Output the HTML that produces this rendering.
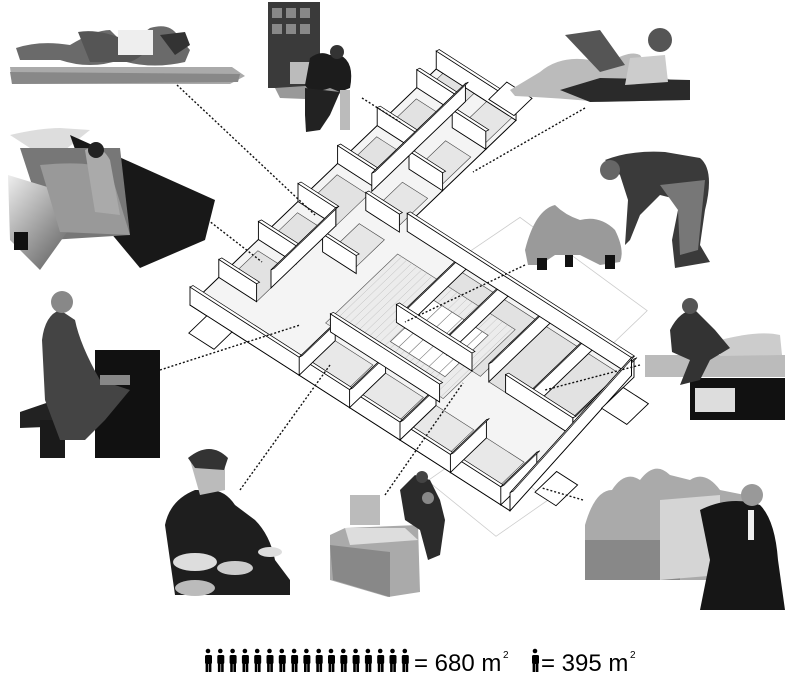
<!DOCTYPE html>
<html><head><meta charset="utf-8"><style>
html,body{margin:0;padding:0;background:#fff;}
svg{display:block}
</style></head><body>
<svg id="s" width="800" height="688" viewBox="0 0 800 688" xmlns="http://www.w3.org/2000/svg" font-family="Liberation Sans, Arial, sans-serif">
<defs>
<linearGradient id="g1" x1="0" y1="0" x2="1" y2="1"><stop offset="0" stop-color="#eee"/><stop offset="1" stop-color="#444"/></linearGradient>
</defs>

<g id="plan"></g>

<g stroke="#111" stroke-width="1.4" stroke-dasharray="2,2" fill="none">
<line x1="177" y1="85" x2="315" y2="215"/>
<line x1="362" y1="98" x2="400" y2="122"/>
<line x1="585" y1="108" x2="473" y2="172"/>
<line x1="195" y1="210" x2="262" y2="262"/>
<line x1="525" y1="265" x2="405" y2="322"/>
<line x1="160" y1="370" x2="300" y2="325"/>
<line x1="640" y1="365" x2="545" y2="390"/>
<line x1="240" y1="490" x2="330" y2="365"/>
<line x1="385" y1="495" x2="463" y2="383"/>
<line x1="583" y1="500" x2="542" y2="488"/>
</g>

<g>
<polygon points="10,67 232,67 245,76 230,84 12,84" fill="#aaa"/>
<polygon points="10,72 240,74 238,82 12,84" fill="#888"/>
<path d="M16,48 Q40,40 70,45 Q95,30 110,30 L118,38 Q135,40 150,28 Q170,22 178,36 L190,50 L185,62 Q150,70 120,60 Q90,70 60,60 L20,60 Z" fill="#6a6a6a"/>
<path d="M78,32 Q100,28 130,42 L150,40 Q148,55 130,62 L90,62 Z" fill="#555"/>
<rect x="118" y="30" width="35" height="25" fill="#eee"/>
<path d="M160,35 L185,32 L190,45 L175,55 Z" fill="#333"/>
</g>

<g>
<rect x="268" y="2" width="52" height="86" fill="#3a3a3a"/>
<g fill="#888"><rect x="272" y="8" width="10" height="10"/><rect x="286" y="8" width="10" height="10"/><rect x="300" y="8" width="10" height="10"/><rect x="272" y="24" width="10" height="10"/><rect x="286" y="24" width="10" height="10"/><rect x="300" y="24" width="10" height="10"/><rect x="290" y="62" width="20" height="22" fill="#bbb"/></g>
<polygon points="275,88 320,85 345,90 330,100 280,98" fill="#999"/>
<path d="M310,58 Q320,50 330,55 L340,55 Q355,62 350,88 L340,92 L330,88 Q310,95 305,85 Z" fill="#1c1c1c"/>
<circle cx="337" cy="52" r="7" fill="#333"/>
<path d="M305,88 L340,92 L330,115 L320,130 L306,132 L305,115 Z" fill="#222"/>
<rect x="340" y="90" width="10" height="40" fill="#bbb"/>
</g>

<g>
<path d="M510,90 L540,72 Q560,55 590,60 L610,62 Q630,50 640,55 L650,70 Q660,75 675,82 L690,82 L685,100 L600,102 Q560,98 515,96 Z" fill="#bbb"/>
<path d="M560,90 L600,78 L690,80 L690,100 L590,102 Z" fill="#2a2a2a"/>
<polygon points="565,35 600,30 625,65 600,72" fill="#555"/>
<circle cx="660" cy="40" r="12" fill="#555"/>
<path d="M630,58 L665,55 L668,82 L625,85 Z" fill="#ccc"/>
</g>

<g>
<path d="M10,135 Q40,128 60,128 L90,130 L65,150 L30,148 Z" fill="#ddd"/>
<polygon points="70,135 215,200 205,240 140,268 100,220" fill="#181818"/>
<polygon points="20,148 120,148 130,235 50,240" fill="#777"/>
<polygon points="8,175 90,200 40,270 25,255 10,240" fill="url(#g1)"/>
<path d="M40,165 Q90,160 110,170 L130,235 L60,232 Z" fill="#999"/>
<path d="M85,150 Q100,142 110,160 L120,215 L95,212 Z" fill="#aaa"/>
<circle cx="96" cy="150" r="8" fill="#222"/>
<rect x="14" y="232" width="14" height="18" fill="#111"/>
</g>

<g>
<path d="M605,160 Q630,150 665,152 L700,158 Q715,170 705,210 L700,245 L710,262 L675,268 L672,240 L680,200 L660,195 L640,215 L630,240 L625,245 L628,200 L620,175 Z" fill="#3a3a3a"/>
<path d="M660,185 L705,180 L698,250 L680,255 L678,210 Z" fill="#777"/>
<circle cx="610" cy="170" r="10" fill="#666"/>
<path d="M525,250 Q535,210 555,205 Q565,215 580,220 Q600,215 615,230 Q625,250 620,262 L600,265 L580,255 L555,255 L540,265 L528,265 Z" fill="#9a9a9a"/>
<g fill="#111"><rect x="537" y="258" width="10" height="12"/><rect x="565" y="255" width="8" height="12"/><rect x="605" y="255" width="10" height="14"/></g>
</g>

<g>
<rect x="95" y="350" width="65" height="108" fill="#111"/>
<polygon points="20,412 90,388 95,425 20,428" fill="#222"/>
<rect x="40" y="420" width="25" height="38" fill="#1a1a1a"/>
<path d="M42,340 Q45,315 60,310 L75,320 Q80,345 100,380 L130,390 L105,420 L85,440 L60,440 L45,400 Z" fill="#444"/>
<circle cx="62" cy="302" r="11" fill="#888"/>
<rect x="100" y="375" width="30" height="10" fill="#888"/>
</g>

<g>
<rect x="690" y="378" width="95" height="42" fill="#111"/>
<rect x="695" y="388" width="40" height="24" fill="#ddd"/>
<rect x="645" y="355" width="140" height="22" fill="#bbb"/>
<path d="M720,340 Q760,330 780,335 L782,355 L720,356 Z" fill="#ccc"/>
<path d="M670,330 Q680,310 695,310 L715,330 L730,348 L710,360 L700,380 L680,385 L690,360 L672,352 Z" fill="#333"/>
<circle cx="690" cy="306" r="8" fill="#555"/>
</g>

<g>
<path d="M165,525 Q170,500 195,490 L210,490 Q225,490 235,505 L255,520 Q270,535 275,560 L290,580 L290,595 L175,595 L170,560 Z" fill="#1e1e1e"/>
<path d="M190,460 Q210,448 225,462 L225,490 L200,495 Z" fill="#bbb"/>
<path d="M188,458 Q210,440 228,458 L224,470 L195,468 Z" fill="#333"/>
<ellipse cx="195" cy="562" rx="22" ry="9" fill="#ddd"/>
<ellipse cx="235" cy="568" rx="18" ry="7" fill="#ccc"/>
<ellipse cx="270" cy="552" rx="12" ry="5" fill="#ddd"/>
<ellipse cx="195" cy="588" rx="20" ry="8" fill="#bbb"/>
</g>

<g>
<polygon points="330,535 345,528 418,525 420,592 388,597 330,580" fill="#aaa"/>
<polygon points="345,528 405,528 418,540 350,545" fill="#ddd"/>
<polygon points="330,545 390,552 390,597 333,580" fill="#888"/>
<rect x="350" y="495" width="30" height="30" fill="#bbb"/>
<path d="M400,490 L415,475 L430,480 L440,500 L445,520 L440,555 L428,560 L420,530 L405,520 Z" fill="#2b2b2b"/>
<circle cx="422" cy="477" r="6" fill="#444"/>
<circle cx="428" cy="498" r="6" fill="#888"/>
</g>

<g>
<path d="M585,525 Q595,490 612,490 Q625,470 640,480 Q655,460 670,475 L690,480 Q705,470 720,490 L745,495 L745,580 L585,580 Z" fill="#aaa"/>
<path d="M585,540 L680,540 L680,580 L585,580 Z" fill="#888"/>
<path d="M660,500 L720,495 L720,575 L660,580 Z" fill="#d5d5d5"/>
<path d="M700,510 Q730,495 760,505 Q775,520 778,560 L785,610 L700,610 L710,560 Z" fill="#161616"/>
<circle cx="752" cy="495" r="11" fill="#999"/>
<rect x="748" y="510" width="6" height="30" fill="#eee"/>
</g>

<g id="leg" fill="#000"></g>
<text x="414" y="671" font-size="24" fill="#000">= 680 m</text>
<text x="503" y="658" font-size="10" fill="#000">2</text>
<text x="541" y="671" font-size="24" fill="#000">= 395 m</text>
<text x="630" y="658" font-size="10" fill="#000">2</text>
</svg>
<script>
var NS="http://www.w3.org/2000/svg";
function el(p,t,a){var e=document.createElementNS(NS,t);for(var k in a)e.setAttribute(k,a[k]);p.appendChild(e);return e;}
var L=document.getElementById("leg");
function fig(x){el(L,"circle",{cx:x+3,cy:651,r:2.3});el(L,"rect",{x:x,y:655,width:7,height:9,rx:1.5});el(L,"rect",{x:x+0.6,y:663,width:2.6,height:9});el(L,"rect",{x:x+3.8,y:663,width:2.6,height:9});}
for(var i=0;i<17;i++)fig(205+i*12.3);
fig(532);
var P=document.getElementById("plan");
function T(a,b){return [190+0.72*a+0.84*b, 305-0.69*a+0.54*b];}
function poly(pts,fill,stroke,sw){var s=pts.map(function(p){var q=T(p[0],p[1]);return q[0].toFixed(1)+","+q[1].toFixed(1);}).join(" ");return el(P,"polygon",{points:s,fill:fill,stroke:stroke||"#000","stroke-width":sw||1});}
function line(a1,b1,a2,b2,c,w){var p=T(a1,b1),q=T(a2,b2);el(P,"line",{x1:p[0],y1:p[1],x2:q[0],y2:q[1],stroke:c||"#000","stroke-width":w||0.8});}
poly([[150,150],[260,170],[250,330],[140,330]],"none","#ccc",0.8);
poly([[-20,300],[40,310],[30,400],[-30,390]],"none","#ccc",0.8);
poly([[0,0],[342,0],[342,95],[200,95],[190,150],[185,367],[0,381]],"#f4f4f4","#000",1);
for(var a=40;a<330;a+=55){poly([[a,8],[a+45,8],[a+45,45],[a,45]],"#e2e2e2","#444",0.6);}
for(var a=120;a<330;a+=60){poly([[a,60],[a+45,60],[a+45,90],[a,90]],"#e6e6e6","#444",0.6);}
for(var b=170;b<370;b+=50){poly([[100,b],[180,b],[180,b+40],[100,b+40]],"#e2e2e2","#444",0.6);}
for(var b=130;b<370;b+=60){poly([[5,b],[50,b],[50,b+45],[5,b+45]],"#e8e8e8","#444",0.6);}
poly([[60,110],[160,110],[160,250],[60,250]],"#ececec","#555",0.6);
for(var k=115;k<250;k+=6)line(60,k,160,k,"#bbb",0.5);
poly([[80,170],[140,170],[140,235],[80,235]],"#fff","#555",0.7);
for(var k=180;k<235;k+=12)line(80,k,140,k,"#777",0.6);
var H=18;
function wall(a1,b1,a2,b2){
 var p=T(a1,b1),q=T(a2,b2);
 el(P,"polygon",{points:[p[0],p[1],q[0],q[1],q[0],q[1]-H,p[0],p[1]-H].join(","),fill:"#fff",stroke:"#000","stroke-width":0.9});
 el(P,"polygon",{points:[p[0],p[1]-H,q[0],q[1]-H,q[0]+3,q[1]-H-1.5,p[0]+3,p[1]-H-1.5].join(","),fill:"#fff",stroke:"#000","stroke-width":0.7});
}
wall(342,0,342,95);wall(0,0,0,381);
for(var a=40;a<340;a+=55){wall(a,0,a,45);}
for(var a=120;a<340;a+=60){wall(a,55,a,95);}
wall(60,45,150,45);wall(200,45,330,45);
for(var b=130;b<380;b+=60){wall(0,b,50,b);}
for(var b=170;b<380;b+=50){wall(100,b,185,b);}
wall(100,160,100,250);wall(100,290,100,370);wall(55,120,55,250);
wall(185,100,185,367);wall(0,381,185,367);
poly([[-25,20],[0,20],[0,50],[-25,50]],"#fff","#000",0.9);
poly([[345,60],[370,60],[370,90],[345,90]],"#fff","#000",0.9);
poly([[140,370],[170,370],[170,400],[140,400]],"#fff","#000",0.9);
poly([[30,385],[60,385],[60,410],[30,410]],"#fff","#000",0.9);
</script>
</body></html>
